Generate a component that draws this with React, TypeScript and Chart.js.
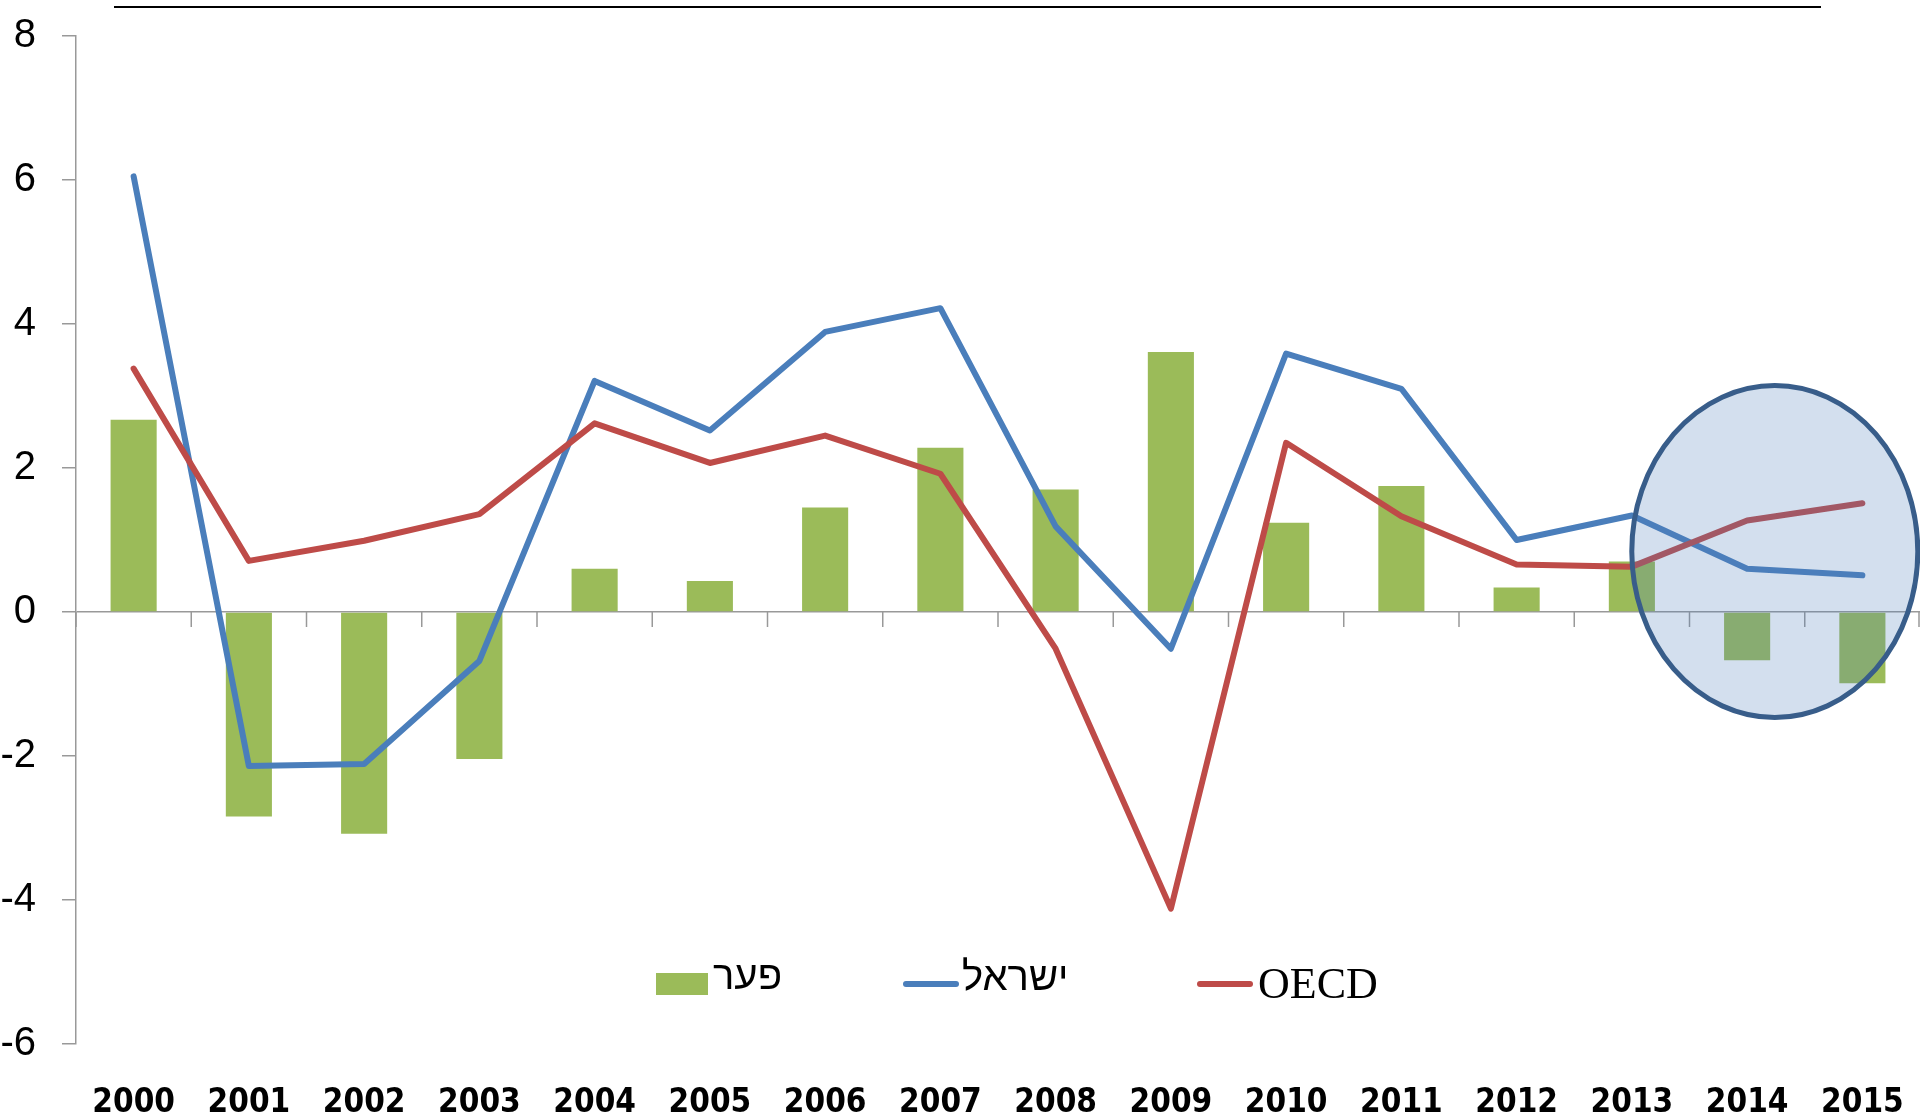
import React, { useEffect, useRef } from "react";
import { Chart, registerables } from "chart.js";

Chart.register(...registerables);

const categories = ["2000", "2001", "2002", "2003", "2004", "2005", "2006", "2007", "2008", "2009", "2010", "2011", "2012", "2013", "2014", "2015"];
const gapLabel = "פער";
const israelLabel = "ישראל";
const oecdLabel = "OECD";
const gapValues = [2.67, -2.84, -3.08, -2.04, 0.6, 0.43, 1.45, 2.28, 1.7, 3.61, 1.24, 1.75, 0.34, 0.7, -0.67, -0.99];
const israelValues = [6.05, -2.14, -2.11, -0.68, 3.21, 2.52, 3.89, 4.22, 1.19, -0.51, 3.59, 3.1, 1.0, 1.34, 0.6, 0.51];
const oecdValues = [3.38, 0.71, 0.99, 1.36, 2.62, 2.07, 2.45, 1.92, -0.51, -4.12, 2.35, 1.33, 0.66, 0.63, 1.27, 1.51];
const yMin = -6;
const yMax = 8;
const yStep = 2;
const highlightCenter = { x: 14.24, y: 0.84 };

const GREEN = "#9BBB59";
const BLUE = "#4A7EBB";
const RED = "#BE4B48";
const AXIS = "#999999";

export default function App() {
  const ref = useRef<HTMLCanvasElement | null>(null);

  useEffect(() => {
    document.body.style.margin = "0";
    document.body.style.overflow = "hidden";
    const canvas = ref.current;
    if (!canvas) return;

    const decorPlugin = {
      id: "decor",
      beforeDatasetsDraw(chart: any) {
        const ctx = chart.ctx;
        const x = chart.scales.x;
        const y = chart.scales.y;
        const y0 = y.getPixelForValue(0);
        ctx.save();
        ctx.strokeStyle = AXIS;
        ctx.lineWidth = 1.5;
        for (let i = 0; i <= categories.length; i++) {
          const px = Math.min(x.getPixelForValue(i - 0.5), chart.width - 1);
          ctx.beginPath();
          ctx.moveTo(px, y0);
          ctx.lineTo(px, y0 + 15);
          ctx.stroke();
        }
        ctx.restore();
      },
      afterDatasetsDraw(chart: any) {
        const ctx = chart.ctx;
        const x = chart.scales.x;
        const y = chart.scales.y;
        const cx = x.getPixelForValue(highlightCenter.x);
        const cy = y.getPixelForValue(highlightCenter.y);
        ctx.save();
        ctx.beginPath();
        ctx.ellipse(cx, cy, 143, 166, 0, 0, Math.PI * 2);
        ctx.fillStyle = "rgba(79,129,189,0.25)";
        ctx.fill();
        ctx.lineWidth = 5;
        ctx.strokeStyle = "#385D8A";
        ctx.stroke();
        ctx.restore();
      },
      afterDraw(chart: any) {
        const ctx = chart.ctx;
        ctx.save();
        // top rule
        ctx.strokeStyle = "#000";
        ctx.lineWidth = 2;
        ctx.beginPath();
        ctx.moveTo(114, 7);
        ctx.lineTo(1821, 7);
        ctx.stroke();

        // legend
        const hebFont = '40px "Liberation Sans", Arial, sans-serif';
        const latFont = '44px "Liberation Serif", "Times New Roman", serif';
        const drawText = (t: string, tx: number, base: number, font: string) => {
          ctx.save();
          ctx.font = font;
          ctx.fillStyle = "#000";
          ctx.textAlign = "left";
          ctx.textBaseline = "alphabetic";
          ctx.fillText(t, tx, base);
          ctx.restore();
        };
        ctx.fillStyle = GREEN;
        ctx.fillRect(656, 973, 52, 22);
        drawText(gapLabel, 713, 989, hebFont);

        ctx.lineCap = "round";
        ctx.lineWidth = 6;
        ctx.strokeStyle = BLUE;
        ctx.beginPath();
        ctx.moveTo(906, 984);
        ctx.lineTo(956, 984);
        ctx.stroke();
        drawText(israelLabel, 962, 990, hebFont);

        ctx.strokeStyle = RED;
        ctx.beginPath();
        ctx.moveTo(1200, 984);
        ctx.lineTo(1250, 984);
        ctx.stroke();
        drawText(oecdLabel, 1258, 998, latFont);
        ctx.restore();
      },
    };

    const chart = new Chart(canvas, {
      type: "bar",
      data: {
        labels: categories,
        datasets: [
          {
            type: "line",
            label: oecdLabel,
            data: oecdValues,
            borderColor: RED,
            backgroundColor: RED,
            borderWidth: 6,
            pointRadius: 0,
            borderCapStyle: "round",
            borderJoinStyle: "round",
            tension: 0,
            order: 0,
          } as any,
          {
            type: "line",
            label: israelLabel,
            data: israelValues,
            borderColor: BLUE,
            backgroundColor: BLUE,
            borderWidth: 6,
            pointRadius: 0,
            borderCapStyle: "round",
            borderJoinStyle: "round",
            tension: 0,
            order: 1,
          } as any,
          {
            type: "bar",
            label: gapLabel,
            data: gapValues,
            backgroundColor: GREEN,
            borderWidth: 0,
            categoryPercentage: 1,
            barPercentage: 0.4,
            order: 2,
          },
        ],
      },
      options: {
        responsive: false,
        animation: false,
        devicePixelRatio: 1,
        layout: { padding: { top: 36, right: 0, bottom: 0, left: 0 } },
        plugins: {
          legend: { display: false },
          tooltip: { enabled: false },
          title: { display: false },
        },
        scales: {
          x: {
            type: "category",
            offset: true,
            grid: { display: false, drawTicks: false },
            border: { display: false },
            ticks: {
              color: "#000",
              padding: 40,
              maxRotation: 0,
              autoSkip: false,
              font: { family: '"Liberation Sans Narrow", "DejaVu Sans Condensed", sans-serif', size: 33, weight: "bold" },
            },
            afterFit: (s: any) => {
              s.height = 74;
              s.paddingLeft = 0;
              s.paddingRight = 0;
            },
          },
          y: {
            min: yMin,
            max: yMax,
            ticks: {
              stepSize: yStep,
              color: "#000",
              padding: 26,
              font: { family: '"Liberation Sans", Arial, sans-serif', size: 40 },
            },
            grid: {
              drawOnChartArea: true,
              drawTicks: true,
              tickLength: 14,
              tickColor: AXIS,
              lineWidth: 1.5,
              tickWidth: 1.5,
              color: (c: any) => (c.tick && c.tick.value === 0 ? AXIS : "rgba(0,0,0,0)"),
            },
            border: { display: true, color: AXIS, width: 1.5 },
            afterFit: (s: any) => {
              s.width = 76;
              s.paddingTop = 0;
              s.paddingBottom = 0;
            },
          },
        },
      },
      plugins: [decorPlugin],
    });

    return () => chart.destroy();
  }, []);

  return (
    <div style={{ width: 1920, height: 1118, position: "relative" }}>
      <canvas ref={ref} width={1920} height={1118} style={{ display: "block" }} />
    </div>
  );
}
